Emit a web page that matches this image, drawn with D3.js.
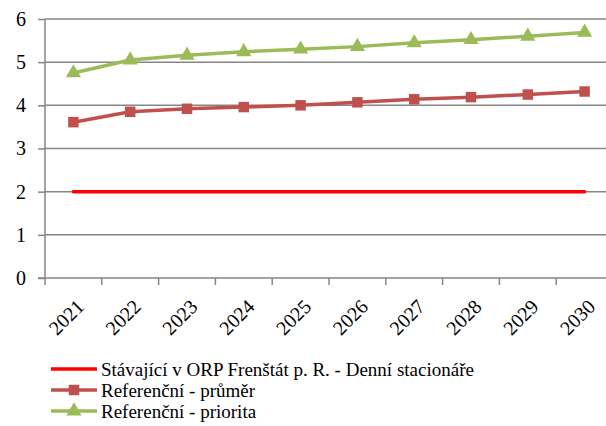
<!DOCTYPE html>
<html>
<head>
<meta charset="utf-8">
<script src="https://cdn.jsdelivr.net/npm/d3@7"></script>
<style>
  body { margin: 0; background: #fff; }
  text { font-family: "Liberation Serif", "DejaVu Serif", serif; fill: #000; }
</style>
</head>
<body>
<svg id="svg"></svg>
<script>
// data
const years = ["2021", "2022", "2023", "2024", "2025", "2026", "2027", "2028", "2029", "2030"];
const stavajici = [2, 2, 2, 2, 2, 2, 2, 2, 2, 2];
const prumer = [3.61, 3.85, 3.92, 3.96, 4.00, 4.07, 4.14, 4.19, 4.25, 4.32];
const priorita = [4.75, 5.05, 5.16, 5.24, 5.30, 5.36, 5.45, 5.52, 5.60, 5.69];
const yTicks = [0, 1, 2, 3, 4, 5, 6];
const legendNames = [
    "Stávající v ORP Frenštát p. R. - Denní stacionáře",
    "Referenční - průměr",
    "Referenční - priorita"
];

const svgWidth = 606;
const svgHeight = 426;
const axisColor = "#868686";

const svg = d3.select("#svg")
    .attr("width", svgWidth)
    .attr("height", svgHeight);

// scales - the plot runs a bit past the right edge like the original
const x = d3.scaleBand().domain(years).range([45, 613]);
const y = d3.scaleLinear().domain([0, 6]).range([278, 19]);
const cx = d => x(d) + x.bandwidth() / 2;

// grid lines
svg.append("g")
    .selectAll("line")
    .data(yTicks.filter(d => d > 0))
    .enter()
    .append("line")
    .attr("x1", 45)
    .attr("x2", svgWidth)
    .attr("y1", d => y(d))
    .attr("y2", d => y(d))
    .attr("stroke", axisColor)
    .attr("stroke-width", 1.5);

// y axis
const yAxis = svg.append("g")
    .attr("transform", "translate(45,0)")
    .call(d3.axisLeft(y).tickValues(yTicks).tickSize(7).tickPadding(12).tickFormat(d3.format("d")))
    .attr("font-family", null)
    .attr("font-size", null);
yAxis.selectAll("line, path").attr("stroke", axisColor).attr("stroke-width", 1.5);
yAxis.select(".domain").attr("d", "M0," + y(0) + "V" + y(6));
yAxis.selectAll("text")
    .attr("fill", "#000")
    .style("font-family", "'Liberation Serif', serif")
    .style("font-size", "20px");

// x axis, ticks on the band edges
const xAxis = svg.append("g")
    .attr("transform", "translate(0," + y(0) + ")");
xAxis.append("line")
    .attr("x1", 38).attr("x2", svgWidth)
    .attr("stroke", axisColor).attr("stroke-width", 1.5);
xAxis.selectAll(".tk")
    .data(years)
    .enter()
    .append("line")
    .attr("class", "tk")
    .attr("x1", d => x(d)).attr("x2", d => x(d))
    .attr("y1", 0).attr("y2", 7)
    .attr("stroke", axisColor).attr("stroke-width", 1.5);
xAxis.selectAll("text")
    .data(years)
    .enter()
    .append("text")
    .attr("transform", d => "translate(" + (cx(d) + 2) + ",20) rotate(-45)")
    .attr("text-anchor", "end")
    .attr("dy", "0.7em")
    .style("font-size", "20px")
    .text(d => d);

// lines
const series = [
    { values: stavajici, color: "#FF0000", marker: null },
    { values: prumer, color: "#C0504D", marker: d3.symbolSquare },
    { values: priorita, color: "#9BBB59", marker: d3.symbolTriangle }
];

const line = d3.line()
    .x((d, i) => cx(years[i]))
    .y(d => y(d));

series.forEach(s => {
    svg.append("path")
        .datum(s.values)
        .attr("d", line)
        .attr("fill", "none")
        .attr("stroke", s.color)
        .attr("stroke-width", 3.5)
        .attr("stroke-linecap", s.marker ? "butt" : "round");
    if (s.marker) {
        svg.append("g")
            .selectAll("path")
            .data(s.values)
            .enter()
            .append("path")
            .attr("d", d3.symbol().type(s.marker).size(s.marker === d3.symbolSquare ? 110 : 100))
            .attr("transform", (d, i) => "translate(" + cx(years[i]) + "," + y(d) + ")")
            .attr("fill", s.color);
    }
});

// legend
const legend = svg.append("g");
series.forEach((s, i) => {
    const ly = 369 + i * 21;
    legend.append("line")
        .attr("x1", 51).attr("x2", 97)
        .attr("y1", ly).attr("y2", ly)
        .attr("stroke", s.color)
        .attr("stroke-width", 3.5);
    if (s.marker) {
        legend.append("path")
            .attr("d", d3.symbol().type(s.marker).size(s.marker === d3.symbolSquare ? 110 : 100))
            .attr("transform", "translate(74," + ly + ")")
            .attr("fill", s.color);
    }
    legend.append("text")
        .attr("x", 101)
        .attr("y", ly)
        .attr("dy", "0.35em")
        .style("font-size", "19px")
        .text(legendNames[i]);
});
</script>
</body>
</html>
